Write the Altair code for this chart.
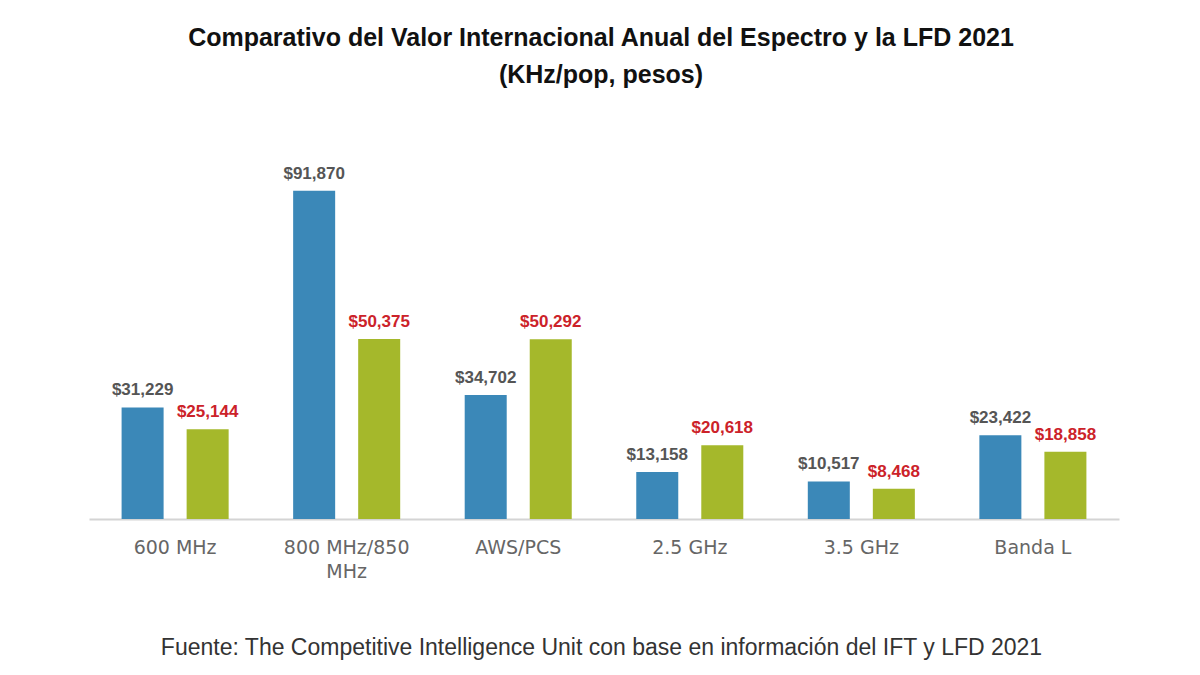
import altair as alt
import pandas as pd

categories = ["600 MHz", "800 MHz/850 MHz", "AWS/PCS", "2.5 GHz", "3.5 GHz", "Banda L"]
series = ["Internacional", "LFD 2021"]
internacional = [31229, 91870, 34702, 13158, 10517, 23422]
lfd2021 = [25144, 50375, 50292, 20618, 8468, 18858]

rows = []
for c, a, b in zip(categories, internacional, lfd2021):
    rows.append({"category": c, "series": series[0], "value": a})
    rows.append({"category": c, "series": series[1], "value": b})
df = pd.DataFrame(rows)

x_enc = alt.X(
    "category:N",
    sort=categories,
    scale=alt.Scale(paddingInner=0.376, paddingOuter=0.19),
    axis=alt.Axis(
        title="Fuente: The Competitive Intelligence Unit con base en información del IFT y LFD 2021",
        titleFont="Liberation Sans",
        titleFontSize=23,
        titleFontWeight="normal",
        titleColor="#333333",
        titleY=128,
        titleX=512,
        titleBaseline="middle",
        labelAngle=0,
        labelFont="DejaVu Sans",
        labelFontSize=19,
        labelColor="#666666",
        labelPadding=19,
        labelLineHeight=24,
        labelBaseline="top",
        labelExpr="datum.value == '800 MHz/850 MHz' ? ['800 MHz/850', 'MHz'] : datum.label",
        ticks=False,
        domainColor="#d4d4d4",
        domainWidth=2,
        labelLimit=300,
    ),
)
xo = alt.XOffset("series:N", sort=series, scale=alt.Scale(paddingInner=0.354, paddingOuter=0))
y_enc = alt.Y("value:Q", scale=alt.Scale(domain=[0, 103300]), axis=None)

bars = alt.Chart(df).mark_bar().encode(
    x=x_enc,
    xOffset=xo,
    y=y_enc,
    color=alt.Color("series:N", scale=alt.Scale(domain=series, range=["#3b88b8", "#a5b82b"]), legend=None),
)

labels = alt.Chart(df).mark_text(
    baseline="bottom", dy=-8, font="Liberation Sans", fontSize=17, fontWeight="bold"
).encode(
    x=x_enc,
    xOffset=xo,
    y=y_enc,
    text=alt.Text("value:Q", format="$,.0f"),
    color=alt.Color("series:N", scale=alt.Scale(domain=series, range=["#555555", "#cc2229"]), legend=None),
)

chart = (
    alt.layer(bars, labels)
    .resolve_scale(color="independent")
    .properties(
        width=1030,
        height=369,
        autosize=alt.AutoSizeParams(type="none"),
        padding={"left": 89, "top": 150, "right": 81, "bottom": 156},
        background="white",
        title=alt.TitleParams(
            text=["Comparativo del Valor Internacional Anual del Espectro y la LFD 2021", "(KHz/pop, pesos)"],
            font="Liberation Sans",
            fontSize=25,
            fontWeight="bold",
            color="#111111",
            anchor="middle",
            lineHeight=37,
            offset=62,
            dx=-3,
        ),
    )
    .configure_view(stroke=None)
)

chart.save("out.html", embed_options={"renderer": "svg", "actions": False})
